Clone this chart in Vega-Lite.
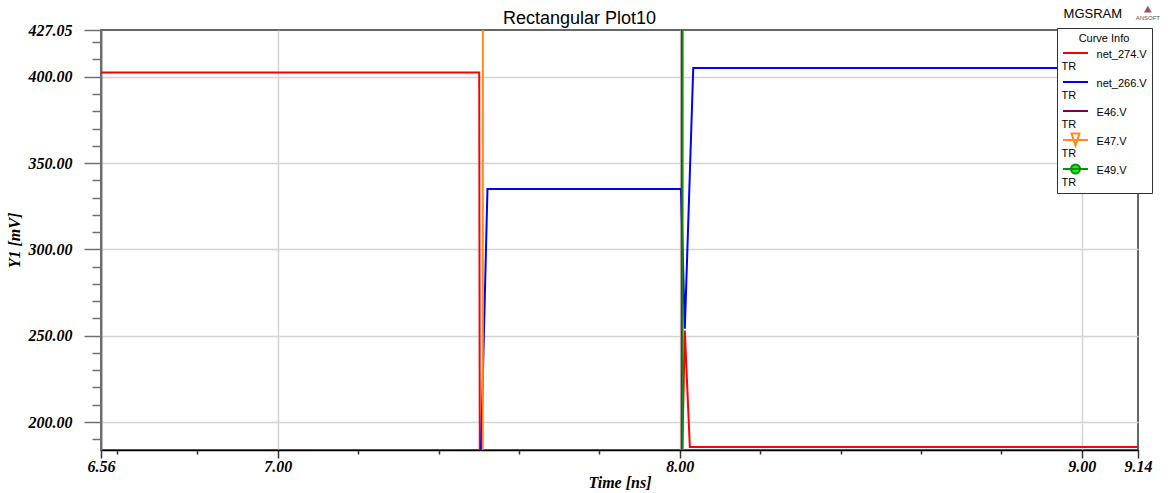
{
  "$schema": "https://vega.github.io/schema/vega-lite/v6.json",
  "autosize": {"type": "none"},
  "padding": {"left": 101, "top": 30, "right": 32, "bottom": 43},
  "width": 1037,
  "height": 420,
  "background": "white",
  "title": {"text": "Rectangular Plot10", "font": "Liberation Sans", "fontSize": 18, "fontWeight": "normal", "color": "black", "anchor": "middle", "dx": -40, "baseline": "alphabetic", "offset": -36},
  "config": {
    "view": {"stroke": "#666666", "strokeWidth": 2},
    "axis": {"labelFont": "Liberation Serif", "labelFontStyle": "italic", "labelFontWeight": "bold", "labelFontSize": 16, "labelColor": "black", "titleFont": "Liberation Serif", "titleFontStyle": "italic", "titleFontWeight": "bold", "titleFontSize": 16, "titleColor": "black", "labelFlush": false, "labelOverlap": false, "gridColor": "#d4d4d4", "gridWidth": 1.5, "tickCount": 200}
  },
  "layer": [
    {
      "data": {"values": [
        {"series": "net_274.V", "t": 6.56, "v": 402.5},
        {"series": "net_274.V", "t": 7.501, "v": 402.5},
        {"series": "net_274.V", "t": 7.5025, "v": 160},
        {"series": "net_274.V", "t": 8.004, "v": 160},
        {"series": "net_274.V", "t": 8.0125, "v": 253},
        {"series": "net_274.V", "t": 8.025, "v": 185.6},
        {"series": "net_274.V", "t": 9.14, "v": 185.6},
        {"series": "net_266.V", "t": 6.56, "v": 160},
        {"series": "net_266.V", "t": 7.503, "v": 160},
        {"series": "net_266.V", "t": 7.5215, "v": 335},
        {"series": "net_266.V", "t": 8.003, "v": 335},
        {"series": "net_266.V", "t": 8.0125, "v": 254},
        {"series": "net_266.V", "t": 8.0335, "v": 405},
        {"series": "net_266.V", "t": 9.14, "v": 405},
        {"series": "E46.V", "t": 6.56, "v": 0},
        {"series": "E46.V", "t": 8.0045, "v": 0},
        {"series": "E46.V", "t": 8.0055, "v": 800},
        {"series": "E46.V", "t": 9.14, "v": 800},
        {"series": "E47.V", "t": 6.56, "v": 0},
        {"series": "E47.V", "t": 7.5098, "v": 0},
        {"series": "E47.V", "t": 7.5103, "v": 800},
        {"series": "E47.V", "t": 9.14, "v": 800},
        {"series": "E49.V", "t": 6.56, "v": 0},
        {"series": "E49.V", "t": 8.0065, "v": 0},
        {"series": "E49.V", "t": 8.0075, "v": 800},
        {"series": "E49.V", "t": 9.14, "v": 800}
      ]},
      "mark": {"type": "line", "strokeWidth": 2, "clip": true},
      "encoding": {
        "x": {"field": "t", "type": "quantitative", "title": "Time [ns]",
          "scale": {"domain": [6.56, 9.14], "nice": false, "zero": false},
          "axis": {
            "values": [6.56, 6.6, 6.8, 7, 7.2, 7.4, 7.6, 7.8, 8, 8.2, 8.4, 8.6, 8.8, 9, 9.14],
            "labelExpr": "(abs(datum.value - round(datum.value)) < 0.001 || datum.value < 6.57 || datum.value > 9.13) ? format(datum.value, '.2f') : ''",
            "tickSize": {"condition": {"test": "abs(datum.value - round(datum.value)) < 0.001 || datum.value < 6.57 || datum.value > 9.13", "value": 8}, "value": 4},
            "gridOpacity": {"condition": {"test": "abs(datum.value - round(datum.value)) < 0.001", "value": 1}, "value": 0},
            "tickColor": "#333333", "tickWidth": 1.5,
            "domainColor": "#000000", "domainWidth": 1.5,
            "labelPadding": 0, "titlePadding": 0
          }
        },
        "y": {"field": "v", "type": "quantitative", "title": "Y1 [mV]",
          "scale": {"domain": [183.8, 427.05], "nice": false, "zero": false},
          "axis": {
            "values": [190, 200, 210, 220, 230, 240, 250, 260, 270, 280, 290, 300, 310, 320, 330, 340, 350, 360, 370, 380, 390, 400, 410, 420, 427.05],
            "labelExpr": "(datum.value % 50 === 0 || datum.value > 427) ? format(datum.value, '.2f') : ''",
            "tickSize": {"condition": {"test": "datum.value % 50 === 0 || datum.value > 427", "value": 17}, "value": 9},
            "gridOpacity": {"condition": {"test": "datum.value % 50 === 0", "value": 1}, "value": 0},
            "tickColor": "#707070", "tickWidth": 1.5,
            "domainColor": "#707070", "domainWidth": 2,
            "labelPadding": 12, "titlePadding": 6
          }
        },
        "color": {"field": "series", "type": "nominal",
          "scale": {"domain": ["net_274.V", "net_266.V", "E46.V", "E47.V", "E49.V"], "range": ["#ff0000", "#0000ff", "#800040", "#ff8c1a", "#108c10"]},
          "legend": {
            "orient": "none", "legendX": 956, "legendY": -2,
            "title": "Curve Info", "titleFont": "Liberation Sans", "titleFontSize": 11, "titleFontWeight": "normal", "titleColor": "black", "titleAnchor": "middle", "titleAlign": "center", "titlePadding": 3,
            "labelFont": "Liberation Sans", "labelFontSize": 11, "labelColor": "black", "labelOffset": -20, "labelLimit": 0,
            "labelExpr": "['\u2800\u2800\u2800\u2800 ' + datum.label, 'TR']",
            "symbolType": "stroke", "symbolSize": 100, "symbolStrokeWidth": 2, "symbolOffset": 7.5,
            "padding": 5, "strokeColor": "#333333", "fillColor": "white", "rowPadding": -1,
            "encode": {
              "symbols": {"update": {
                "shape": {"signal": "datum.value === 'E47.V' ? 'M0,-1.3M-2.5,0H2.5M-0.8,-1.3L0.8,-1.3L0,1.12Z' : (datum.value === 'E49.V' ? 'M0,-1.3M-2.5,0H2.5M0.9,0A0.9,0.9 0 1,1 -0.9,0A0.9,0.9 0 1,1 0.9,0Z' : 'M0,-1.3M-2.5,0H2.5')"},
                "fill": {"signal": "datum.value === 'E49.V' ? '#00ff00' : 'transparent'"}
              }},
              "labels": {"update": {"dy": {"value": 2}, "lineHeight": {"value": 12}}}
            }
          }
        }
      }
    },
    {
      "data": {"values": [{"label": "MGSRAM"}]},
      "mark": {"type": "text", "clip": false, "font": "Liberation Sans", "fontSize": 13, "color": "black", "align": "center", "baseline": "middle"},
      "encoding": {
        "x": {"datum": 9.0277, "type": "quantitative"},
        "y": {"datum": 436.3, "type": "quantitative"},
        "text": {"field": "label"}
      }
    },
    {
      "data": {"values": [{"label": "ANSOFT"}]},
      "mark": {"type": "text", "clip": false, "font": "Liberation Sans", "fontSize": 6, "color": "#555555", "align": "center", "baseline": "middle"},
      "encoding": {
        "x": {"datum": 9.1645, "type": "quantitative"},
        "y": {"datum": 434.0, "type": "quantitative"},
        "text": {"field": "label"}
      }
    },
    {
      "data": {"values": [{"label": "logo"}]},
      "mark": {"type": "point", "clip": false, "shape": "triangle-up", "filled": true, "size": 60, "color": "#a05050", "opacity": 1},
      "encoding": {
        "x": {"datum": 9.1645, "type": "quantitative"},
        "y": {"datum": 439.2, "type": "quantitative"}
      }
    }
  ]
}
